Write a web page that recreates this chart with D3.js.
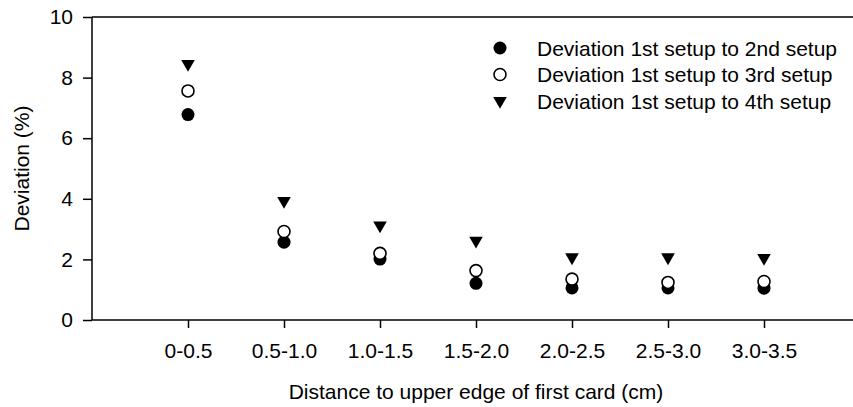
<!DOCTYPE html>
<html><head><meta charset="utf-8">
<script src="https://cdn.jsdelivr.net/npm/d3@7"></script>
<style>
html,body{margin:0;padding:0;background:#fff;}
svg{display:block;font-family:"Liberation Sans",Arial,sans-serif;}
</style></head>
<body><svg id="c" width="853" height="407"></svg>
<script>
const categories = ["0-0.5","0.5-1.0","1.0-1.5","1.5-2.0","2.0-2.5","2.5-3.0","3.0-3.5"];
const setup2 = [6.78, 2.57, 2.01, 1.21, 1.06, 1.06, 1.05];
const setup3 = [7.56, 2.92, 2.20, 1.63, 1.35, 1.24, 1.27];
const setup4 = [8.45, 3.93, 3.12, 2.62, 2.07, 2.07, 2.05];
const yTicks = [0, 2, 4, 6, 8, 10];
const seriesNames = ["Deviation 1st setup to 2nd setup","Deviation 1st setup to 3rd setup","Deviation 1st setup to 4th setup"];

const svg = d3.select("#c");
const L = 92, R = 853, T = 17, B = 320;
const x = d3.scaleLinear().domain([0, (R - L) / 96]).range([L, R]);
const y = d3.scaleLinear().domain([0, 10]).range([B, T]);
const FS = 21;

const ya = svg.append("g").attr("transform", `translate(${L},0)`)
  .call(d3.axisLeft(y).tickValues(yTicks).tickSize(9).tickPadding(10).tickFormat(d3.format("d")));
const xa = svg.append("g").attr("transform", `translate(0,${B})`)
  .call(d3.axisBottom(x).tickValues(categories.map((c, i) => i + 1)).tickSize(8).tickPadding(15)
    .tickFormat(i => categories[i - 1]));
[ya, xa].forEach(g => {
  g.select(".domain").remove();
  g.selectAll("line").attr("stroke", "#000").attr("stroke-width", 1.5);
  g.selectAll("text").attr("font-size", FS).attr("fill", "#000").attr("font-family", "Liberation Sans, Arial, sans-serif");
});
svg.append("line").attr("x1", L).attr("x2", R).attr("y1", B).attr("y2", B).attr("stroke", "#000").attr("stroke-width", 1.5);
svg.append("line").attr("x1", L).attr("x2", R).attr("y1", T).attr("y2", T).attr("stroke", "#000").attr("stroke-width", 1.5);
svg.append("line").attr("x1", L).attr("x2", L).attr("y1", T).attr("y2", B).attr("stroke", "#000").attr("stroke-width", 1.5);

const tri = d3.symbol().type(d3.symbolTriangle).size(80);
function drawSym(sel, kind) {
  if (kind === 0) sel.append("circle").attr("r", 6.5).attr("fill", "#000");
  else if (kind === 1) sel.append("circle").attr("r", 6).attr("fill", "#fff").attr("stroke", "#000").attr("stroke-width", 1.6);
  else sel.append("path").attr("d", tri).attr("transform", "rotate(180)").attr("fill", "#000");
}
[setup2, setup3, setup4].forEach((vals, k) => {
  const g = svg.append("g");
  vals.forEach((v, i) => {
    const s = g.append("g").attr("transform", `translate(${x(i + 1)},${y(v)})`);
    drawSym(s, k);
  });
});

const legY = [48, 74.5, 101];
seriesNames.forEach((n, k) => {
  const s = svg.append("g").attr("transform", `translate(500,${legY[k]})`);
  drawSym(s, k);
  svg.append("text").attr("x", 537).attr("y", legY[k] + 7.5).attr("font-size", FS).text(n);
});

svg.append("text").attr("x", 476).attr("y", 399).attr("text-anchor", "middle").attr("font-size", FS)
  .text("Distance to upper edge of first card (cm)");
svg.append("text").attr("transform", `translate(29,${(T + B) / 2}) rotate(-90)`).attr("text-anchor", "middle")
  .attr("font-size", FS).text("Deviation (%)");
</script></body></html>
